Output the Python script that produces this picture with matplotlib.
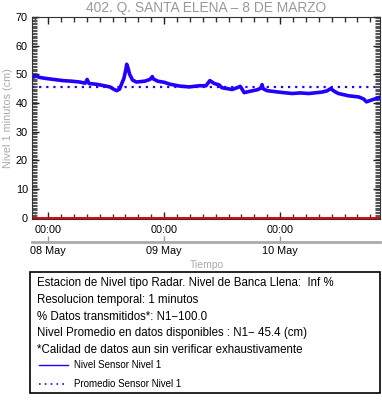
import pandas as pd
import matplotlib.pyplot as plt
import matplotlib.dates as mdates
from matplotlib.lines import Line2D
from matplotlib.patches import Rectangle

plt.rcParams['font.family'] = ['Liberation Sans', 'DejaVu Sans']

# series: hours after the start of the window, level in cm
start = pd.Timestamp('2024-05-07 20:40')
horas = [0.0, 0.8, 1.6, 2.7, 4.5, 6.4, 8.2, 9.9, 11.0, 11.4, 11.8, 13.4, 15.0,
         16.1, 16.9, 17.5, 18.1, 18.5, 19.0, 19.4, 19.6, 19.9, 20.2, 20.8, 21.6,
         23.3, 24.4, 24.9, 25.1, 26.0, 27.4, 28.4, 30.5, 32.5, 34.6, 36.0, 36.8,
         37.7, 38.7, 39.3, 40.4, 41.4, 42.4, 43.1, 43.9, 44.9, 46.6, 47.4, 47.6,
         47.8, 48.6, 50.5, 52.1, 53.8, 55.5, 57.3, 60.0, 61.0, 61.8, 62.6, 63.4,
         65.5, 67.6, 68.6, 69.2, 70.2, 71.7, 72.0]
nivel = [48.8, 49.4, 48.9, 48.6, 48.2, 47.8, 47.6, 47.3, 46.9, 48.2, 46.8, 46.5, 46.0,
         45.6, 44.8, 44.3, 44.8, 46.5, 48.5, 51.5, 53.5, 52.0, 50.0, 48.0, 47.3,
         47.6, 48.2, 49.2, 48.4, 47.6, 47.2, 46.6, 45.9, 45.6, 46.0, 46.0, 47.8,
         46.8, 46.3, 45.3, 45.0, 44.7, 45.3, 45.8, 43.6, 44.0, 44.6, 45.2, 46.4,
         45.0, 44.3, 43.9, 43.6, 43.3, 43.5, 43.3, 43.8, 44.2, 45.0, 44.0, 43.3,
         42.5, 42.1, 41.4, 40.4, 41.0, 41.8, 42.0]
promedio = 45.4
dias = ['2024-05-08', '2024-05-09', '2024-05-10']

tiempo = start + pd.to_timedelta(horas, unit='h')

fig = plt.figure(figsize=(3.82, 4.04), dpi=100)
W, H = 382, 404
ax = fig.add_axes([32 / W, 1 - 219 / H, 348 / W, 202 / H])

ax.plot(tiempo, nivel, color='#2200ff', linewidth=2.6, solid_joinstyle='round')
ax.axhline(promedio, color='#2200ff', linewidth=1.6, linestyle=(0, (1, 2.2)))
ax.axhline(0, color='#e8000b', linewidth=1.4)

ax.set_xlim(start, start + pd.Timedelta(days=3))
ax.set_ylim(-0.5, 70)

ax.set_yticks(range(0, 71, 10))
ax.set_yticks([v / 2 for v in range(0, 141)], minor=True)
ax.tick_params(axis='y', which='major', direction='in', length=5, width=1.0,
               labelsize=7.8, pad=3, right=True, color='#222222')
ax.tick_params(axis='y', which='minor', direction='in', length=3.5, width=0.8,
               right=True, color='#555555')

ticks_dia = pd.to_datetime(dias)
ax.set_xticks(ticks_dia)
ax.xaxis.set_major_formatter(mdates.DateFormatter('%H:%M'))
minor = pd.date_range(ticks_dia[0] - pd.Timedelta(minutes=160), start + pd.Timedelta(days=3),
                      freq='160min')
ax.set_xticks(minor, minor=True)
ax.tick_params(axis='x', which='major', direction='in', length=5, width=1.0,
               labelsize=7.8, pad=4, top=True, color='#222222')
ax.tick_params(axis='x', which='minor', direction='in', length=3.5, width=1.0,
               top=True, color='#333333')
for s in ax.spines.values():
    s.set_linewidth(0.8)
    s.set_color('#333333')

sec = ax.secondary_xaxis(-0.114)
sec.set_xticks(ticks_dia)
sec.xaxis.set_major_formatter(mdates.DateFormatter('%d %b'))
sec.tick_params(axis='x', direction='in', length=4, width=1, color='#999999',
                labelsize=7.8, pad=3)
sec.spines['bottom'].set_color('#aaaaaa')
sec.spines['bottom'].set_linewidth(2)

ax.set_ylabel('Nivel 1 minutos (cm)', color='#aaaaaa', fontsize=7.8, labelpad=2)
fig.text(207 / W, 1 - 265 / H, 'Tiempo', color='#aaaaaa', fontsize=7.5,
         ha='center', va='center')
fig.text(206 / W, 1 - 8 / H, '402. Q. SANTA ELENA \u2013 8 DE MARZO', color='#999999',
         fontsize=9.9, ha='center', va='center')

# info box
fig.add_artist(Rectangle((30 / W, 1 - 393 / H), 350 / W, 121 / H, fill=False,
                         edgecolor='black', linewidth=1.2, transform=fig.transFigure))
lineas = ['Estacion de Nivel tipo Radar. Nivel de Banca Llena:  Inf %',
          'Resolucion temporal: 1 minutos',
          '% Datos transmitidos*: N1\u2212100.0',
          'Nivel Promedio en datos disponibles : N1\u2212 45.4 (cm)',
          '*Calidad de datos aun sin verificar exhaustivamente']
for i, txt in enumerate(lineas):
    fig.text(37 / W, 1 - (283 + i * 16.8) / H, txt, fontsize=8.3, ha='left', va='center')

h1 = Line2D([], [], color='#2200ff', linewidth=1)
h2 = Line2D([], [], color='#2200ff', linewidth=1.2, linestyle=(0, (1, 2.5)))
fig.legend([h1, h2], ['Nivel Sensor Nivel 1', 'Promedio Sensor Nivel 1'],
           loc='upper left', bbox_to_anchor=(39 / W, 1 - 360 / H), frameon=False,
           fontsize=7.0, handlelength=3.0, handletextpad=0.6, labelspacing=0.95,
           borderpad=0, borderaxespad=0)

fig.savefig('out.png', dpi=100)
